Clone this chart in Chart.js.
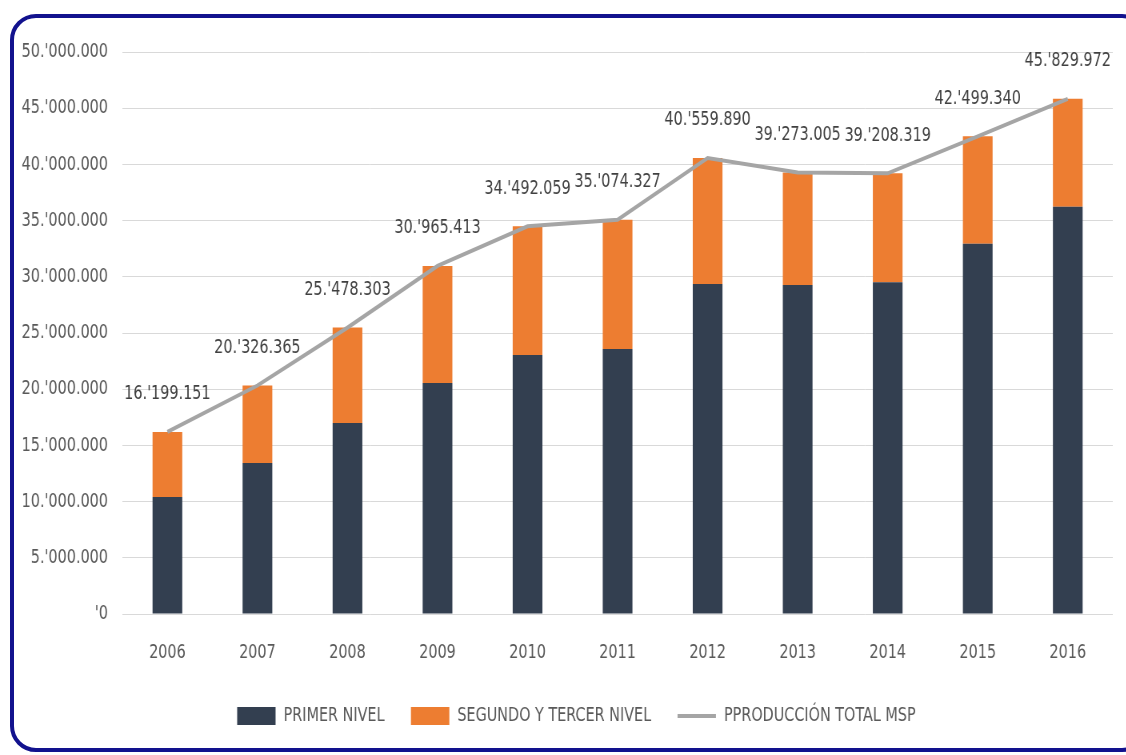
<!DOCTYPE html>
<html lang="es">
<head>
<meta charset="utf-8">
<title>Producción MSP 2006 - 2016</title>
<script src="https://cdn.jsdelivr.net/npm/chart.js@4"></script>
<style>
  html, body { margin: 0; padding: 0; background: #fff; overflow: hidden; }
  #marco {
    position: absolute; left: 10px; top: 14px;
    width: 1138px; height: 738px; box-sizing: border-box;
    border: 4px solid #12128e; border-radius: 26px;
  }
  /* el gráfico se dibuja más ancho y se comprime en horizontal para que el texto quede estrecho */
  #contenedor {
    position: absolute; left: 0; top: 0; width: 1408px; height: 755px;
    transform: scaleX(0.8); transform-origin: 0 0;
  }
</style>
</head>
<body>
<div id="marco"></div>
<div id="contenedor"><canvas id="graficoProduccion"></canvas></div>
<script>
// Datos por año
const anios = ['2006', '2007', '2008', '2009', '2010', '2011', '2012', '2013', '2014', '2015', '2016'];
const primerNivel = [10400000, 13430000, 17000000, 20550000, 23040000, 23580000, 29360000, 29280000, 29520000, 32950000, 36230000];
const segundoTercerNivel = [5799151, 6896365, 8478303, 10415413, 11452059, 11494327, 11199890, 9993005, 9688319, 9549340, 9599972];
const produccionTotal = [16199151, 20326365, 25478303, 30965413, 34492059, 35074327, 40559890, 39273005, 39208319, 42499340, 45829972];
const marcasEje = [0, 5000000, 10000000, 15000000, 20000000, 25000000, 30000000, 35000000, 40000000, 45000000, 50000000];

const fuente = "'DejaVu Sans Condensed', 'Liberation Sans Narrow', sans-serif";

// Formato con millones separados por .' (ej. 16.'199.151)
function formatoMillones(v) {
    if (v === 0) return "'0";
    const m = Math.floor(v / 1000000);
    const resto = v % 1000000;
    const miles = String(Math.floor(resto / 1000)).padStart(3, '0');
    const unidades = String(resto % 1000).padStart(3, '0');
    return m + ".'" + miles + '.' + unidades;
}

// Etiquetas del total encima de la línea
const etiquetasTotal = {
    id: 'etiquetasTotal',
    afterDatasetsDraw(chart) {
        const ctx = chart.ctx;
        const meta = chart.getDatasetMeta(2);
        ctx.save();
        ctx.font = '20px ' + fuente;
        ctx.fillStyle = '#404040';
        ctx.textAlign = 'center';
        ctx.textBaseline = 'middle';
        meta.data.forEach((pt, i) => {
            ctx.fillText(formatoMillones(produccionTotal[i]), pt.x, pt.y - 38);
        });
        ctx.restore();
    }
};

// Corre la leyenda un poco a la derecha (centrada bajo el área de barras)
const moverLeyenda = {
    id: 'moverLeyenda',
    afterLayout(chart) {
        if (chart.legend) {
            chart.legend.left += 25;
            chart.legend.right += 25;
        }
    }
};

const ctx = document.getElementById('graficoProduccion').getContext('2d');
new Chart(ctx, {
    type: 'bar',
    data: {
        labels: anios,
        datasets: [
            {
                label: 'PRIMER NIVEL',
                data: primerNivel,
                backgroundColor: '#333f50',
                stack: 'niveles',
                order: 0,
                barPercentage: 0.33,
                categoryPercentage: 1
            },
            {
                label: 'SEGUNDO Y TERCER NIVEL',
                data: segundoTercerNivel,
                backgroundColor: '#ed7d31',
                stack: 'niveles',
                order: 0,
                barPercentage: 0.33,
                categoryPercentage: 1
            },
            {
                type: 'line',
                label: 'PPRODUCCIÓN TOTAL MSP',
                data: produccionTotal,
                borderColor: '#a5a5a5',
                backgroundColor: '#a5a5a5',
                borderWidth: 4,
                pointRadius: 0,
                tension: 0,
                fill: false,
                stack: 'total',
                order: -1
            }
        ]
    },
    options: {
        responsive: true,
        maintainAspectRatio: false,
        animation: false,
        layout: { padding: { top: 52, right: 17, left: 0, bottom: 19 } },
        plugins: {
            tooltip: { enabled: false },
            legend: {
                position: 'bottom',
                labels: {
                    usePointStyle: true,
                    pointStyleWidth: 48,
                    boxHeight: 18,
                    padding: 33,
                    color: '#595959',
                    font: { family: fuente, size: 20 },
                    sort: (a, b) => a.datasetIndex - b.datasetIndex,
                    generateLabels(chart) {
                        const items = Chart.defaults.plugins.legend.labels.generateLabels(chart);
                        items.forEach(it => { it.pointStyle = it.datasetIndex === 2 ? 'line' : 'rect'; });
                        return items;
                    }
                }
            }
        },
        scales: {
            x: {
                stacked: true,
                grid: { display: false },
                border: { display: false },
                ticks: { color: '#595959', padding: 19, font: { family: fuente, size: 20 } },
                afterFit(scale) { scale.height = 59; }
            },
            y: {
                stacked: true,
                min: 0,
                max: 50000000,
                grid: { color: '#d9d9d9', lineWidth: 1, drawTicks: false },
                border: { display: false },
                afterBuildTicks(scale) { scale.ticks = marcasEje.map(v => ({ value: v })); },
                ticks: {
                    color: '#595959',
                    padding: 18,
                    font: { family: fuente, size: 20 },
                    callback: (v) => formatoMillones(v)
                },
                afterFit(scale) { scale.width = 153; }
            }
        }
    },
    plugins: [etiquetasTotal, moverLeyenda]
});
</script>
</body>
</html>
